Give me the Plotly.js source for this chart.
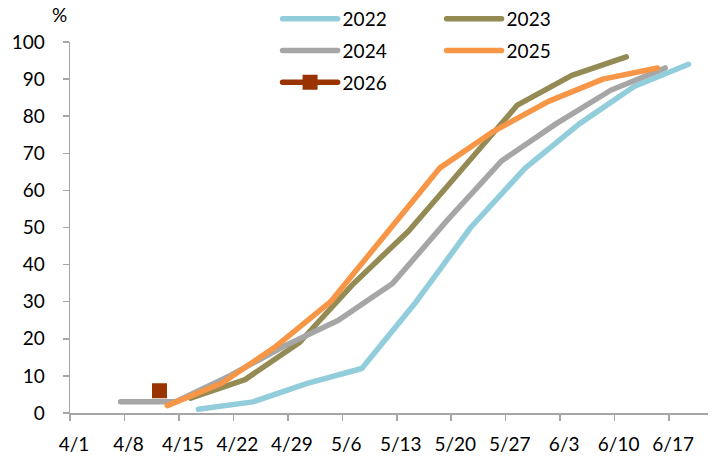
<!DOCTYPE html>
<html>
<head>
<meta charset="utf-8">
<script src="https://cdn.plot.ly/plotly-3.0.1.min.js"></script>
<style>
  html, body { margin: 0; padding: 0; background: #fff; }
  #chart { width: 721px; height: 460px; }
  .js-line { stroke-linecap: round; stroke-linejoin: round; }
</style>
</head>
<body>
<div id="chart"></div>
<script>
// Dates aligned onto the 2026 calendar (week-ending Sundays)
const dates2022 = ['2026-04-17','2026-04-24','2026-05-01','2026-05-08','2026-05-15','2026-05-22','2026-05-29','2026-06-05','2026-06-12','2026-06-19'];
const values2022 = [1, 3, 8, 12, 30, 50, 66, 78, 88, 94];

const dates2023 = ['2026-04-16','2026-04-23','2026-04-30','2026-05-07','2026-05-14','2026-05-21','2026-05-28','2026-06-04','2026-06-11'];
const values2023 = [4, 9, 19, 35, 49, 66, 83, 91, 96];

const dates2024 = ['2026-04-07','2026-04-14','2026-04-21','2026-04-28','2026-05-05','2026-05-12','2026-05-19','2026-05-26','2026-06-02','2026-06-09','2026-06-16'];
const values2024 = [3, 3, 10, 18, 25, 35, 52, 68, 78, 87, 93];

const dates2025 = ['2026-04-13','2026-04-20','2026-04-27','2026-05-04','2026-05-11','2026-05-18','2026-05-25','2026-06-01','2026-06-08','2026-06-15'];
const values2025 = [2, 8, 18, 30, 48, 66, 76, 84, 90, 93];

const dates2026 = ['2026-04-12'];
const values2026 = [6];

const xTickVals = ['2026-03-31 12:00','2026-04-07 12:00','2026-04-14 12:00','2026-04-21 12:00','2026-04-28 12:00','2026-05-05 12:00','2026-05-12 12:00','2026-05-19 12:00','2026-05-26 12:00','2026-06-02 12:00','2026-06-09 12:00','2026-06-16 12:00'];
const xTickText = ['4/1','4/8','4/15','4/22','4/29','5/6','5/13','5/20','5/27','6/3','6/10','6/17'];
const xRange = ['2026-03-31 12:00','2026-06-21 12:00'];

const FONT = 'Lato, "Open Sans", sans-serif';
const LW = 5.5;

const traces = [
  {name: '2022', x: dates2022, y: values2022, mode: 'lines', line: {color: '#92CDDC', width: LW}, legend: 'legend'},
  {name: '2023', x: dates2023, y: values2023, mode: 'lines', line: {color: '#948A54', width: LW}, legend: 'legend'},
  {name: '2024', x: dates2024, y: values2024, mode: 'lines', line: {color: '#A6A6A6', width: LW}, legend: 'legend2'},
  {name: '2025', x: dates2025, y: values2025, mode: 'lines', line: {color: '#F79646', width: LW}, legend: 'legend2'},
  {name: '2026', x: dates2026, y: values2026, mode: 'lines+markers', line: {color: '#993300', width: LW},
   marker: {symbol: 'square', size: 15, color: '#993300', line: {width: 0}}, legend: 'legend3'}
];

const legendBase = {
  orientation: 'h', xref: 'container', yref: 'container', xanchor: 'left', yanchor: 'top',
  x: 0.385, itemwidth: 55, entrywidth: 94, bgcolor: 'rgba(0,0,0,0)',
  font: {family: FONT, size: 19, color: '#000'}, traceorder: 'normal'
};

const layout = {
  width: 721, height: 460,
  margin: {l: 70, r: 13, t: 42, b: 47, autoexpand: false},
  paper_bgcolor: '#fff', plot_bgcolor: '#fff',
  font: {family: FONT, size: 19, color: '#000'},
  showlegend: true,
  legend: Object.assign({}, legendBase, {y: 1.0}),
  legend2: Object.assign({}, legendBase, {y: 0.931}),
  legend3: Object.assign({}, legendBase, {y: 0.862}),
  xaxis: {
    type: 'date', range: xRange, tickmode: 'array', tickvals: xTickVals, ticktext: xTickText,
    showgrid: false, zeroline: false, showline: true, linecolor: '#A6A6A6', linewidth: 1.5,
    ticks: 'outside', ticklen: 6, tickwidth: 1.5, tickcolor: '#A6A6A6',
    ticklabelshift: 4, ticklabelstandoff: 8,
    tickfont: {family: FONT, size: 19, color: '#000'}, fixedrange: true
  },
  yaxis: {
    range: [0, 100], tickmode: 'linear', tick0: 0, dtick: 10,
    showgrid: false, zeroline: false, showline: true, linecolor: '#A6A6A6', linewidth: 1.5,
    ticks: 'outside', ticklen: 6, tickwidth: 1.5, tickcolor: '#A6A6A6',
    ticklabelstandoff: 14,
    tickfont: {family: FONT, size: 19, color: '#000'}, fixedrange: true
  },
  annotations: [{
    text: '%', xref: 'paper', yref: 'paper', x: -0.017, y: 1.073,
    xanchor: 'center', yanchor: 'middle', showarrow: false,
    font: {family: FONT, size: 19, color: '#000'}
  }],
  hovermode: false
};

Plotly.newPlot('chart', traces, layout, {displayModeBar: false, staticPlot: true});
</script>
</body>
</html>
